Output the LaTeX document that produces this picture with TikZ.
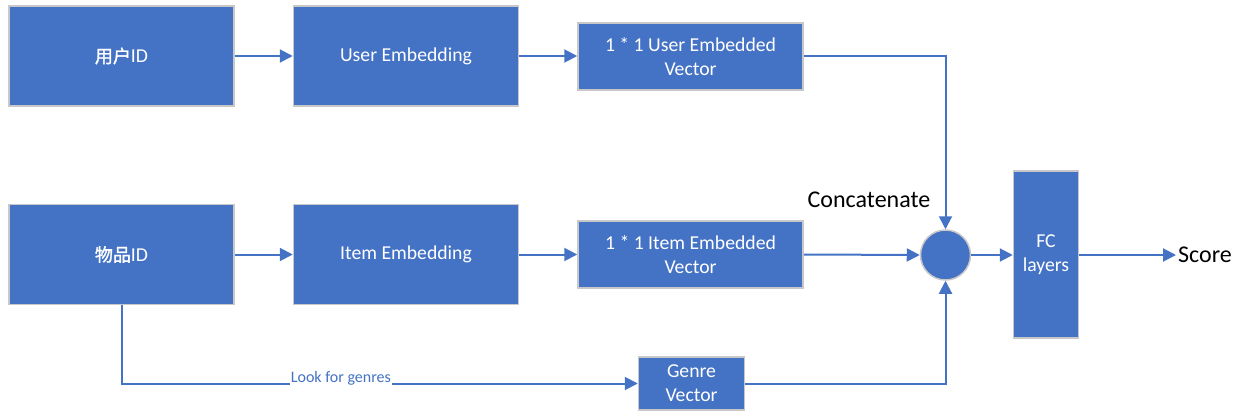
\documentclass[tikz,border=0pt]{standalone}
\usepackage{fontspec}
\setmainfont{Carlito}
\newfontfamily\cjk[FakeBold=1.6]{Noto Sans CJK SC}
\usetikzlibrary{arrows.meta}
\definecolor{bblue}{HTML}{4472C4}
\definecolor{bgray}{HTML}{C8C8C8}
\begin{document}
\begin{tikzpicture}[x=1pt,y=-1pt,
  blk/.style={fill=bblue,draw=bgray,line width=1.5pt,text=white,inner sep=0pt,
    align=center,font=\fontsize{19.7}{24}\selectfont},
  conn/.style={draw=bblue,line width=2pt,-{Triangle[length=13pt,width=13pt]}}]
\useasboundingbox (0,0) rectangle (1247,420);
\node[blk,minimum width=225pt,minimum height=100pt] (uid) at (121.5,56) {{\cjk\fontsize{18}{22}\selectfont 用户}ID};
\node[blk,minimum width=225pt,minimum height=100pt] (uemb) at (406,56) {User Embedding};
\node[blk,minimum width=225pt,minimum height=67pt] (uvec) at (690.5,56.5) {1 * 1 User Embedded\\Vector};
\node[blk,minimum width=225pt,minimum height=100pt] (iid) at (121.5,254.5) {{\cjk\fontsize{18}{22}\selectfont 物品}ID};
\node[blk,minimum width=225pt,minimum height=100pt] (iemb) at (406,254.5) {Item Embedding};
\node[blk,minimum width=225pt,minimum height=67pt] (ivec) at (690.5,254.5) {1 * 1 Item Embedded\\Vector};
\node[blk,circle,minimum size=50pt] (cat) at (945.5,255) {};
\node[blk,minimum width=65pt,minimum height=167pt] (fc) at (1046,254.5) {FC\\layers};
\node[blk,minimum width=106pt,minimum height=53pt] (genre) at (691.5,383.5) {Genre\\Vector};
\node[anchor=west,inner sep=2pt,font=\fontsize{24}{28}\selectfont] (score) at (1176,255) {Score};
\node[font=\fontsize{24}{28}\selectfont] (catlab) at (869,200) {Concatenate};
\coordinate (ucorner) at (945.5,56.5);
\coordinate (gcorner) at (945.5,383.5);
\coordinate (icorner) at (121.5,383.5);
\draw[conn] (uid) -- (uemb);
\draw[conn] (uemb) -- (uemb -| uvec.west);
\draw[conn] (uvec.east) -- (ucorner) -- (cat.north);
\draw[conn] (iid) -- (iemb);
\draw[conn] (iemb) -- (iemb -| ivec.west);
\draw[conn] (ivec.east) -- (cat.west);
\draw[conn] (cat.east) -- (fc.west |- cat.east);
\draw[conn] (fc.east |- score.west) -- (score.west);
\draw[conn] (iid.south) -- (icorner) -- node[pos=0.425,anchor=base,fill=white,text=bblue,inner sep=1pt,font=\fontsize{16}{19}\selectfont,yshift=1pt] (lfg) {Look for genres} (genre.west);
\draw[conn] (genre.east) -- (gcorner) -- (cat.south);
\end{tikzpicture}
\end{document}
